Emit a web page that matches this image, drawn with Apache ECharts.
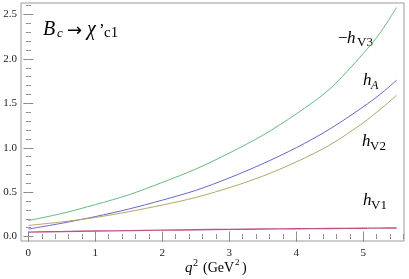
<!DOCTYPE html>
<html><head><meta charset="utf-8">
<script src="https://cdn.jsdelivr.net/npm/echarts@6/dist/echarts.min.js"></script>
<style>html,body{margin:0;padding:0;background:#fff}#c{width:409px;height:279px}</style>
</head><body><div id="c"></div>
<script>
// q^2 sample points (GeV^2)
var q2 = [0, 0.5, 1, 1.5, 2, 2.5, 3, 3.5, 4, 4.5, 5, 5.25, 5.5];
// -h_V3
var hV3neg = [0.18, 0.26, 0.36, 0.47, 0.61, 0.76, 0.94, 1.14, 1.38, 1.66, 2.06, 2.29, 2.58];
// h_A
var hA = [0.085, 0.15, 0.225, 0.31, 0.41, 0.52, 0.66, 0.82, 1.00, 1.21, 1.46, 1.60, 1.76];
// h_V2
var hV2 = [0.125, 0.165, 0.215, 0.28, 0.355, 0.44, 0.55, 0.68, 0.84, 1.03, 1.28, 1.43, 1.59];
// h_V1
var hV1 = [0.05, 0.056, 0.062, 0.067, 0.072, 0.077, 0.081, 0.085, 0.088, 0.091, 0.094, 0.0955, 0.097];
// ticks
var xTicks = [0, 1, 2, 3, 4, 5];
var yTicks = [0, 0.5, 1, 1.5, 2, 2.5];

var xMinor = [], yMinor = [];
for (var i = 0; i <= 28; i++) { var v = +(i * 0.2).toFixed(1); if (v % 1 !== 0) xMinor.push(v); }
for (var j = 0; j <= 26; j++) { var w = +(j * 0.1).toFixed(1); if (Math.abs(w * 2 - Math.round(w * 2)) > 1e-9) yMinor.push(w); }

function pairs(ys) { return q2.map(function (x, k) { return [x, ys[k]]; }); }

var SERIF = '"Liberation Serif","DejaVu Serif",serif';
var tickCol = '#8a8a8a';
var XMIN = -0.11, XMAX = 5.61, YMIN = -0.05, YMAX = 2.63;

function xAx(pos, vals, len, labels) {
  return {
    type: 'value', position: pos, min: XMIN, max: XMAX,
    axisLine: { show: false }, splitLine: { show: false },
    axisTick: { show: true, inside: true, length: len, customValues: vals, lineStyle: { color: tickCol, width: 1 } },
    axisLabel: { show: labels, customValues: vals, color: '#222', fontFamily: SERIF, fontSize: 11, margin: 7 }
  };
}
function yAx(pos, vals, len, labels) {
  return {
    type: 'value', position: pos, min: YMIN, max: YMAX,
    axisLine: { show: false }, splitLine: { show: false },
    axisTick: { show: true, inside: true, length: len, customValues: vals, lineStyle: { color: tickCol, width: 1 } },
    axisLabel: { show: labels, customValues: vals, color: '#222', fontFamily: SERIF, fontSize: 11, margin: 4,
      formatter: function (v) { return v.toFixed(1); } }
  };
}

function line(name, ys, color, width) {
  return { name: name, type: 'line', data: pairs(ys), smooth: 0.3, showSymbol: false, symbol: 'none',
    xAxisIndex: 0, yAxisIndex: 0, lineStyle: { color: color, width: width }, silent: true, animation: false };
}

function T(txt, left, top, font) {
  return { type: 'text', left: left, top: top, style: { text: txt, font: font, fill: '#000' } };
}

var chart = echarts.init(document.getElementById('c'), null, { renderer: 'canvas' });
chart.setOption({
  animation: false,
  backgroundColor: '#fff',
  grid: { left: 21, right: 5, top: 3, bottom: 38, show: true, borderColor: '#9a9a9a', borderWidth: 1, containLabel: false },
  xAxis: [xAx('bottom', xTicks, 5, true), xAx('bottom', xMinor, 2.5, false), xAx('top', xTicks, 5, false), xAx('top', xMinor, 2.5, false)],
  yAxis: [yAx('left', yTicks, 5, true), yAx('left', yMinor, 2.5, false), yAx('right', yTicks, 5, false), yAx('right', yMinor, 2.5, false)],
  series: [
    line('-hV3', hV3neg, '#66ba7c', 1),
    line('hA', hA, '#6a66c8', 1),
    line('hV2', hV2, '#b8a468', 1),
    line('hV1', hV1, '#c0508c', 1.4)
  ],
  graphic: [
    // title B_c -> chi'_c1
    T('B', 43, 20, 'italic 20px ' + SERIF),
    T('c', 57, 27, 'italic 13px ' + SERIF),
    T('\u2192', 67, 22, '18px "DejaVu Sans",sans-serif'),
    T('\u03c7', 87, 20, 'italic 20px ' + SERIF),
    T('\u2019', 99, 22, '17px ' + SERIF),
    T('c1', 104, 26, '15px ' + SERIF),
    // -h_V3
    T('\u2212', 338, 30, '17px ' + SERIF),
    T('h', 347, 30, 'italic 17px ' + SERIF),
    T('V3', 357, 36, '13px ' + SERIF),
    // h_A
    T('h', 363, 72, 'italic 17px ' + SERIF),
    T('A', 371, 80, 'italic 12px ' + SERIF),
    // h_V2
    T('h', 362, 133, 'italic 17px ' + SERIF),
    T('V2', 370, 140, '13px ' + SERIF),
    // h_V1
    T('h', 363, 192, 'italic 17px ' + SERIF),
    T('V1', 371, 199, '13px ' + SERIF),
    // x axis title
    T('q', 185, 261, 'italic 15px ' + SERIF),
    T('2', 193, 258, '10px ' + SERIF),
    T('(GeV', 203, 261, '14px ' + SERIF),
    T('2', 235, 258, '9px ' + SERIF),
    T(')', 242, 261, '14px ' + SERIF)
  ]
});
</script></body></html>
